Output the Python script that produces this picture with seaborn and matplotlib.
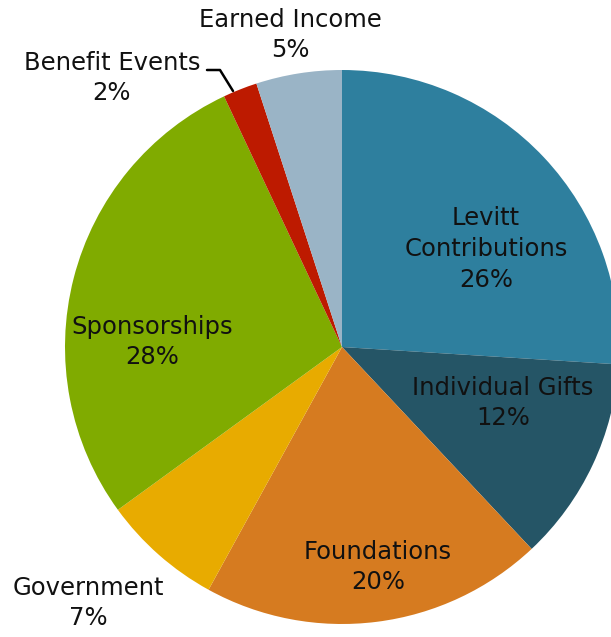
import numpy as np
import seaborn as sns
import matplotlib.pyplot as plt

sns.set_style("white")
plt.rcParams['font.family'] = ['DejaVu Sans']

# Dane
labels = ['Levitt\nContributions', 'Individual Gifts', 'Foundations', 'Government',
          'Sponsorships', 'Benefit Events', 'Earned Income']
values = [26, 12, 20, 7, 28, 2, 5]
colors = ['#2e7f9e', '#255566', '#d67b20', '#e8ab00', '#80ab00', '#bd1a00', '#9ab4c6']

fig = plt.figure(figsize=(6.11, 6.37), dpi=100)
ax = fig.add_axes([0, 0, 1, 1])

R = 277
wedges, _ = ax.pie(values, colors=colors, startangle=90, counterclock=False,
                   radius=R, center=(0, 0), wedgeprops=dict(linewidth=0))

# pozycje etykiet (wzgledem srodka kola, w pikselach)
pos = [(144, 98), (161, -56), (36, -220), (-254, -256),
       (-190, 5), (-230, 269), (-52, 312)]
for lab, v, (x, y) in zip(labels, values, pos):
    ax.text(x, y, f'{lab}\n{v}%', ha='center', va='center', fontsize=17.5,
            color='#111111', linespacing=1.35)

# linia odniesienia dla Benefit Events
ax.plot([-135, -122, -109], [277, 277, 256], color='black', lw=1.8)

ax.set_xlim(-342, 611 - 342)
ax.set_ylim(-(637 - 347), 347)
ax.set_aspect('equal')
ax.axis('off')

plt.savefig('out.png', dpi=100)
